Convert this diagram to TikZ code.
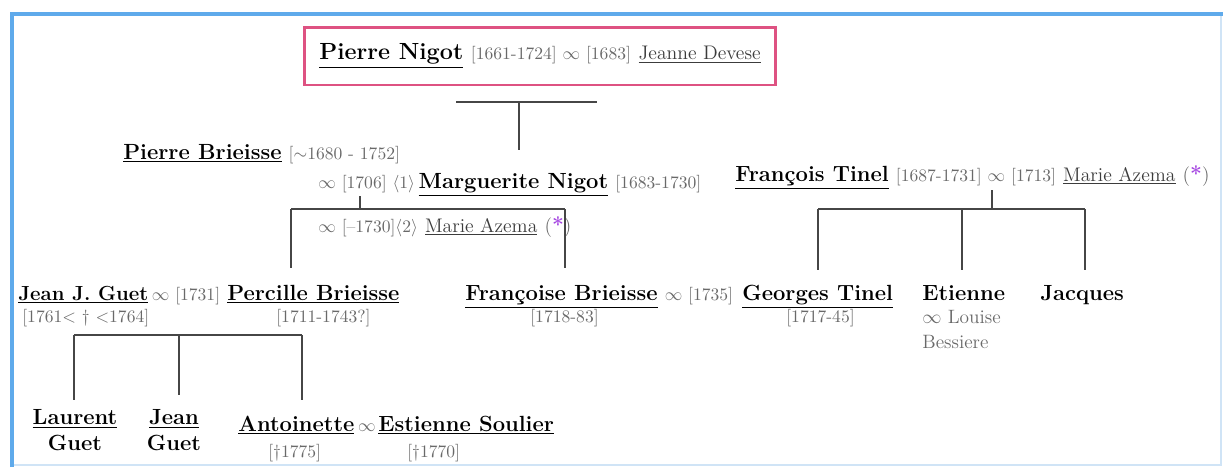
\documentclass[tikz,border=0pt]{standalone}
\usepackage{tikz}
\usetikzlibrary{positioning}
\definecolor{FrameBlue}{RGB}{95,170,235}
\definecolor{FrameLight}{RGB}{208,228,246}
\definecolor{RootPink}{RGB}{222,82,130}
\definecolor{DateGray}{RGB}{105,105,105}
\definecolor{SpouseGray}{RGB}{60,60,60}
\definecolor{LineGray}{RGB}{70,70,70}
\definecolor{StarPurple}{RGB}{165,70,225}
\newcommand{\nm}[1]{\underline{\textbf{#1}}}
\newcommand{\dt}[1]{{\color{DateGray}\fontsize{10}{12}\selectfont #1}}
\newcommand{\sps}[1]{{\color{SpouseGray}\fontsize{11.2}{13}\selectfont\underline{#1}}}
\newcommand{\ptr}{{\color{DateGray}\fontsize{11.2}{13}\selectfont(}{\color{StarPurple}\fontsize{12}{13}\selectfont\textbf{*}}{\color{DateGray}\fontsize{11.2}{13}\selectfont)}}

\begin{document}
\begin{tikzpicture}[x=0.02cm,y=-0.02cm,
    person/.style={inner sep=0pt,anchor=base west,font=\fontsize{12.5}{15}\selectfont},
    rootbox/.style={draw=RootPink,line width=1.7pt,minimum width=9.44cm,
      minimum height=1.16cm,inner sep=0pt,font=\fontsize{13.3}{15}\selectfont},
    kin/.style={draw=LineGray,line width=1.1pt}
  ]
  \useasboundingbox (0,0) rectangle (1223,467);
  % frame
  \draw[FrameLight,line width=0.6pt] (1221,14) -- (1221,465) -- (12,465);
  \draw[FrameBlue,line width=2.3pt] (12,467) -- (12,14) -- (1223,14);

  % root couple
  \node[rootbox] (root) at (540,56)
    {\nm{Pierre Nigot} \dt{[1661-1724] $\infty$ [1683]} \sps{Jeanne Devese}};
  \coordinate (rootL) at (456,102);
  \coordinate (rootR) at (597,102);
  \coordinate (rootM) at (519,102);
  \coordinate (rootE) at (519,150);
  \draw[kin] (rootL) -- (rootR);
  \draw[kin] (rootM) -- (rootE);

  % Brieisse couple
  \node[person] (pbri) at (123,159) {\nm{Pierre Brieisse} \dt{[$\sim$1680 - 1752]}};
  \node[person] (mnig) at (318,188)
    {\dt{$\infty$ [1706] $\langle$1$\rangle$}\,\nm{Marguerite Nigot} \dt{[1683-1730]}};
  \node[person] (mazb) at (318,232)
    {\dt{$\infty$ [--1730]$\langle$2$\rangle$} \sps{Marie Azema} \ptr};

  % Tinel couple
  \node[person] (ftin) at (735,181)
    {\nm{François Tinel} \dt{[1687-1731] $\infty$ [1713]} \sps{Marie Azema} \ptr};

  % children
  \node[person] (jguet) at (18,300)
    {{\fontsize{11.6}{14}\selectfont\nm{Jean J. Guet}}\,\dt{$\infty$ [1731]}};
  \node[person] (perc) at (227,300) {\nm{Percille Brieisse}};
  \node[person] (fbri) at (465,300) {\nm{Françoise Brieisse} \dt{$\infty$ [1735]}};
  \node[person] (gtin) at (742,300) {\nm{Georges Tinel}};
  \node[person] (etie) at (922,300) {\textbf{Etienne}};
  \node[person] (jacq) at (1040,300) {\textbf{Jacques}};

  \node[person] (jguetD) at (22,322) {\dt{[1761$<$ \dag\ $<$1764]}};
  \node[person] (percD) at (276,322) {\dt{[1711-1743?]}};
  \node[person] (fbriD) at (530,322) {\dt{[1718-83]}};
  \node[person] (gtinD) at (786,322) {\dt{[1717-45]}};
  \node[person,text=DateGray,font=\fontsize{11}{13}\selectfont] (etieS) at (922,323) {$\infty$ Louise};
  \node[person,text=DateGray,font=\fontsize{11}{13}\selectfont] (etieB) at (922,348) {Bessiere};

  % grandchildren
  \node[person,anchor=north,align=center] (laur) at (75,409) {\nm{Laurent}\\\textbf{Guet}};
  \node[person,anchor=north,align=center] (jean) at (174,409) {\nm{Jean}\\\textbf{Guet}};
  \node[person] (anto) at (238,431) {\nm{Antoinette}\,\dt{$\infty$}};
  \node[person] (esou) at (378,431) {\nm{Estienne Soulier}};
  \node[person] (antoD) at (268,457) {\dt{[\dag1775]}};
  \node[person] (esouD) at (407,457) {\dt{[\dag1770]}};

  % Brieisse lines
  \coordinate (briT) at (360,196);
  \coordinate (briM) at (360,209);
  \coordinate (briL) at (291,209);
  \coordinate (briR) at (565,209);
  \coordinate (briLE) at (291,268);
  \coordinate (briRE) at (565,268);
  \draw[kin] (briT) -- (briM);
  \draw[kin] (briL) -- (briR);
  \draw[kin] (briL) -- (briLE);
  \draw[kin] (briR) -- (briRE);

  % Tinel lines
  \coordinate (tinT) at (992,190);
  \coordinate (tinM) at (992,209);
  \coordinate (tinL) at (818,209);
  \coordinate (tinC) at (962,209);
  \coordinate (tinR) at (1085,209);
  \coordinate (tinLE) at (818,270);
  \coordinate (tinCE) at (962,270);
  \coordinate (tinRE) at (1085,270);
  \draw[kin] (tinT) -- (tinM);
  \draw[kin] (tinL) -- (tinR);
  \draw[kin] (tinL) -- (tinLE);
  \draw[kin] (tinC) -- (tinCE);
  \draw[kin] (tinR) -- (tinRE);

  % Guet lines
  \coordinate (guL) at (74,335);
  \coordinate (guC) at (179,335);
  \coordinate (guR) at (302,335);
  \coordinate (guLE) at (74,400);
  \coordinate (guCE) at (179,395);
  \coordinate (guRE) at (302,400);
  \draw[kin] (guL) -- (guR);
  \draw[kin] (guL) -- (guLE);
  \draw[kin] (guC) -- (guCE);
  \draw[kin] (guR) -- (guRE);
\end{tikzpicture}
\end{document}
